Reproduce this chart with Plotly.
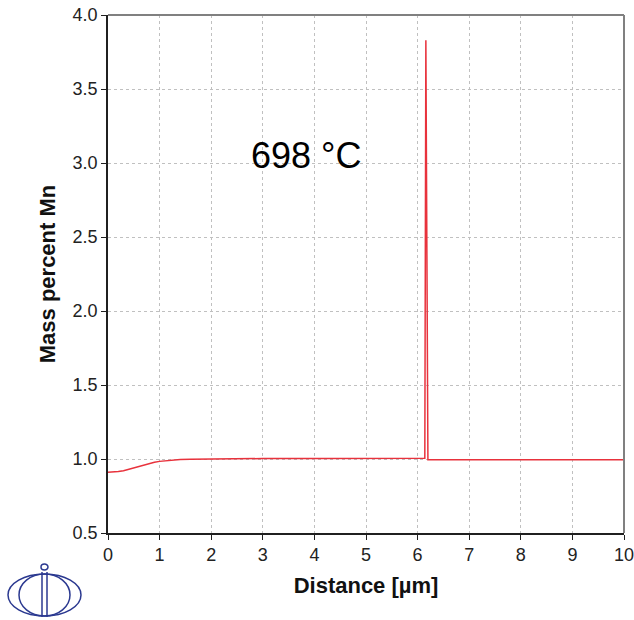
import plotly.graph_objects as go

distance = [0.0, 0.1, 0.2, 0.3, 0.4, 0.5, 0.6, 0.7, 0.8, 0.9, 1.0, 1.2, 1.4, 1.6, 1.8, 2.0, 2.5, 3.0, 4.0, 5.0, 6.0, 6.14, 6.16, 6.19, 6.2, 7.0, 8.0, 9.0, 10.0]
mass_mn = [0.91, 0.91, 0.915, 0.92, 0.93, 0.94, 0.95, 0.96, 0.97, 0.978, 0.984, 0.992, 0.997, 0.999, 1.0, 1.001, 1.002, 1.003, 1.004, 1.004, 1.005, 1.005, 3.83, 0.995, 0.995, 0.995, 0.995, 0.995, 0.995]

x_ticks = [0, 1, 2, 3, 4, 5, 6, 7, 8, 9, 10]
y_ticks = [0.5, 1.0, 1.5, 2.0, 2.5, 3.0, 3.5, 4.0]
y_labels = ["0.5", "1.0", "1.5", "2.0", "2.5", "3.0", "3.5", "4.0"]
label_text = "698 °C"

W, H = 634, 620
L, R, T, B = 108, 10, 15, 87
FONT = "Liberation Sans, Arial, sans-serif"

fig = go.Figure()
fig.add_trace(go.Scatter(x=distance, y=mass_mn, mode="lines",
                         line=dict(color="#e8323c", width=1.5), showlegend=False))

def px(xp):
    return (xp - L) / (W - L - R)

def py(yp):
    return (H - B - yp) / (H - T - B)

logo_col = "#2b3990"
shapes = [
    dict(type="circle", xref="paper", yref="paper", x0=px(8), x1=px(81), y0=py(616), y1=py(574),
         line=dict(color=logo_col, width=1.5)),
    dict(type="circle", xref="paper", yref="paper", x0=px(19), x1=px(70), y0=py(616), y1=py(574),
         line=dict(color=logo_col, width=1.5)),
    dict(type="line", xref="paper", yref="paper", x0=px(42), x1=px(42), y0=py(617), y1=py(572),
         line=dict(color=logo_col, width=1.5)),
    dict(type="line", xref="paper", yref="paper", x0=px(47), x1=px(47), y0=py(617), y1=py(572),
         line=dict(color=logo_col, width=1.5)),
    dict(type="circle", xref="paper", yref="paper", x0=px(41), x1=px(48), y0=py(570), y1=py(564),
         line=dict(color=logo_col, width=1.5)),
]

axis_common = dict(
    showline=True, linecolor="#202020", linewidth=1.5, mirror=False,
    ticks="outside", ticklen=5, tickcolor="#202020",
    showgrid=True, gridcolor="#c0c0c0", griddash="dot", gridwidth=1,
    zeroline=False, automargin=False, ticklabeloverflow="allow",
    tickfont=dict(family=FONT, size=18, color="#222222"),
)

fig.update_layout(
    width=W, height=H,
    margin=dict(l=L, r=R, t=T, b=B, autoexpand=False),
    plot_bgcolor="white", paper_bgcolor="white",
    xaxis=dict(range=[0, 10], tickvals=x_ticks,
               title=dict(text="<b>Distance [µm]</b>", font=dict(family=FONT, size=22, color="#111111"), standoff=13),
               **axis_common),
    yaxis=dict(range=[0.5, 4.0], tickvals=y_ticks, ticktext=y_labels,
               title=dict(text="<b>Mass percent Mn</b>", font=dict(family=FONT, size=22, color="#111111"), standoff=11),
               **axis_common),
    shapes=shapes + [
        dict(type="line", xref="paper", yref="paper", x0=0, x1=1, y0=1, y1=1, line=dict(color="#808080", width=2)),
        dict(type="line", xref="paper", yref="paper", x0=1, x1=1, y0=0, y1=1, line=dict(color="#808080", width=2)),
    ],
    annotations=[dict(x=3.83, y=3.05, xref="x", yref="y", text=label_text, showarrow=False,
                      font=dict(family=FONT, size=36, color="black"))],
)

fig.write_html("out.html", config={"displayModeBar": False},
               post_script="document.body.style.margin='0';document.body.style.overflow='hidden';")
